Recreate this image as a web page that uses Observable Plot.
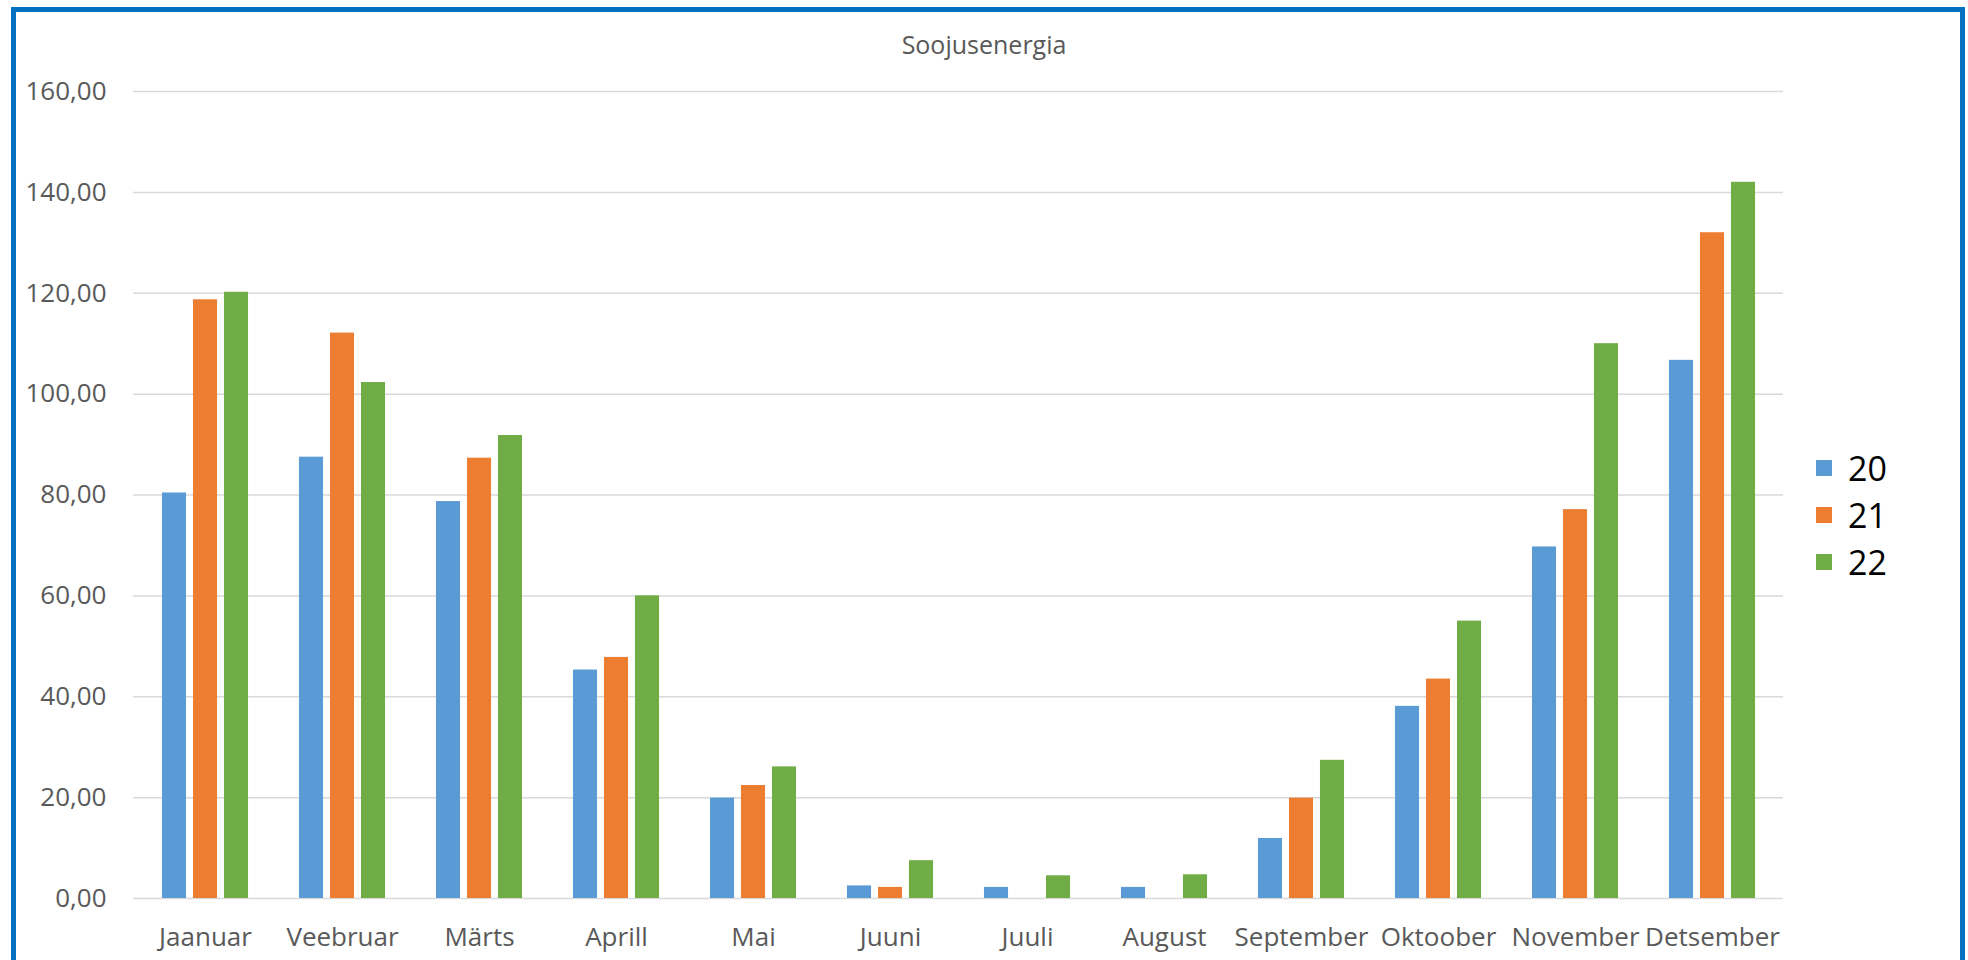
<!DOCTYPE html>
<html>
<head>
<meta charset="utf-8">
<script src="https://cdn.jsdelivr.net/npm/d3@7"></script>
<script src="https://cdn.jsdelivr.net/npm/@observablehq/plot@0.6"></script>
<style>
  html, body { margin: 0; padding: 0; background: #fff; width: 1968px; height: 960px; overflow: hidden; font-family: "Open Sans", sans-serif; }
  #frame { position: absolute; left: 11px; top: 7px; width: 1944px; height: 1000px; border: 5px solid #0070C0; border-bottom: none; }
  #chart { position: absolute; left: 0; top: 0; }
  #title { position: absolute; left: 0; width: 1968px; top: 27px; text-align: center; font-size: 25px; color: #595959; }
  #legend { position: absolute; left: 1816px; top: 444px; font-size: 34px; color: #000; }
  .item { display: flex; align-items: center; height: 47px; }
  .sw { width: 16px; height: 16px; margin-right: 16px; }
</style>
</head>
<body>
<div id="frame"></div>
<div id="chart"></div>
<div id="title">Soojusenergia</div>
<div id="legend"></div>
<script>
const months = ["Jaanuar", "Veebruar", "Märts", "Aprill", "Mai", "Juuni", "Juuli", "August", "September", "Oktoober", "November", "Detsember"];
const series = ["20", "21", "22"];
const colors = ["#5B9BD5", "#ED7D31", "#70AD47"];
const values20 = [80.4, 87.5, 78.7, 45.3, 19.9, 2.5, 2.2, 2.2, 11.9, 38.1, 69.7, 106.7];
const values21 = [118.7, 112.1, 87.3, 47.8, 22.4, 2.2, 0, 0, 19.9, 43.5, 77.1, 132.0];
const values22 = [120.2, 102.3, 91.8, 60.0, 26.1, 7.5, 4.5, 4.7, 27.4, 55.0, 110.0, 142.0];
const yTicks = [0, 20, 40, 60, 80, 100, 120, 140, 160];

const seriesValues = [values20, values21, values22];
const tables = seriesValues.map((vals, j) => months.map((m, i) => ({month: m, year: series[j], value: vals[i]})));

const bandwidth = (1783 - 133) / 12 * (1 - 0.375);
const barWidth = 24;
const inset = (bandwidth - barWidth) / 2;
const barStep = 31;

const chart = Plot.plot({
  width: 1968,
  height: 960,
  marginLeft: 133,
  marginRight: 185,
  marginTop: 91,
  marginBottom: 62,
  style: {fontFamily: "Open Sans", background: "transparent"},
  x: {domain: months, paddingInner: 0.375, paddingOuter: 0.1875, label: null},
  y: {domain: [0, 160], label: null},
  color: {domain: series, range: colors},
  marks: [
    Plot.gridY(yTicks, {stroke: "#d9d9d9", strokeOpacity: 1, strokeWidth: 1.5}),
    Plot.axisY(yTicks, {tickSize: 0, tickPadding: 0, dx: -27, fontSize: 26, fill: "#595959", tickFormat: d => d.toFixed(2).replace(".", ","), label: null}),
    Plot.axisX({anchor: "bottom", tickSize: 0, tickPadding: 0, dy: 29, fontSize: 26, fill: "#595959", label: null}),
    ...tables.map((t, j) => Plot.barY(t, {x: "month", y: "value", fill: "year", insetLeft: inset, insetRight: inset, dx: (j - 1) * barStep}))
  ]
});
document.getElementById("chart").appendChild(chart);

const legend = document.getElementById("legend");
series.forEach((s, j) => {
  const item = document.createElement("div");
  item.className = "item";
  const sw = document.createElement("div");
  sw.className = "sw";
  sw.style.background = colors[j];
  const t = document.createElement("span");
  t.textContent = s;
  item.appendChild(sw);
  item.appendChild(t);
  legend.appendChild(item);
});
</script>
</body>
</html>
